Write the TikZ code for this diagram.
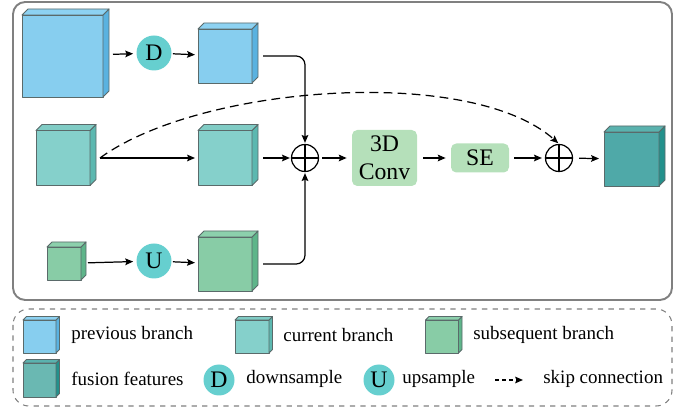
\documentclass[tikz,border=0pt]{standalone}
\usepackage{fontspec}
\setmainfont{Liberation Serif}
\usetikzlibrary{arrows.meta}

\definecolor{prevF}{HTML}{87CEEF}
\definecolor{prevS}{HTML}{5AB2E0}
\definecolor{prevT}{HTML}{8DD2F2}
\definecolor{curF}{HTML}{85D0CB}
\definecolor{curS}{HTML}{5CB8B0}
\definecolor{curT}{HTML}{80CCC5}
\definecolor{subF}{HTML}{88CCA6}
\definecolor{subS}{HTML}{5EB58A}
\definecolor{subT}{HTML}{8CD0AC}
\definecolor{fusF}{HTML}{4FA9A8}
\definecolor{fusS}{HTML}{23918C}
\definecolor{fusT}{HTML}{5AB2AE}
\definecolor{lfusF}{HTML}{6AB8B2}
\definecolor{circ}{HTML}{66CFCF}
\definecolor{boxg}{HTML}{B5E0BA}
\definecolor{edge}{HTML}{5A6A6A}
\definecolor{frame}{HTML}{808080}

% side and top faces of a cube: name, side colour, top colour, depth
\newcommand\cubefaces[4]{%
    \filldraw[face, fill=#2] (#1.north east) -- ++(#4,-#4)
        -- ([shift={(#4,-#4)}]#1.south east) -- (#1.south east) -- cycle;
    \filldraw[face, fill=#3] (#1.north west) -- ++(#4,-#4)
        -- ([shift={(#4,-#4)}]#1.north east) -- (#1.north east) -- cycle;
}

\begin{document}
\begin{tikzpicture}
% Style
[
    x=0.02cm, y=-0.02cm,
    face/.style={draw=edge, line width=0.5pt, line join=round},
    cube/.style n args={3}{face, fill=#1, inner sep=0pt, outer sep=0pt,
        minimum width=#2*0.02cm, minimum height=#3*0.02cm},
    op/.style={circle, draw=none, fill=circ, minimum size=35*0.02cm, inner sep=0pt,
        font=\fontsize{13.5}{16}\selectfont},
    lop/.style={op, minimum size=31*0.02cm},
    plus/.style={circle, draw, line width=0.7pt, minimum size=27*0.02cm, inner sep=0pt},
    block/.style={rounded corners=3pt, fill=boxg, align=center, inner sep=0pt,
        font=\fontsize{13.5}{16}\selectfont},
    arr/.style={-{Stealth[length=4.5pt, width=3.8pt, inset=0.8pt]}, line width=0.7pt},
    lbl/.style={anchor=west, inner sep=0pt, font=\fontsize{10.8}{13}\selectfont},
]
\useasboundingbox (0,0) rectangle (686,411);

%=================================== Frames ===================================
\draw[frame, line width=1.1pt, rounded corners=7pt] (13,2) rectangle (672,300);
\draw[frame, line width=0.6pt, dashed, rounded corners=9pt] (13,309) rectangle (672,406);

%=================================== Branches =================================
\node[cube={prevF}{81}{82}] (prev-1) at (62.5,56) {};
\cubefaces{prev-1}{prevS}{prevT}{6}
\node[op] (down) at (154,53) {D};
\node[cube={prevF}{54}{54}] (prev-2) at (225,56) {};
\cubefaces{prev-2}{prevS}{prevT}{6}

\node[cube={curF}{54}{55}] (cur-1) at (63,158) {};
\cubefaces{cur-1}{curS}{curT}{6}
\node[cube={curF}{54}{55}] (cur-2) at (225,158) {};
\cubefaces{cur-2}{curS}{curT}{6}

\node[cube={subF}{34}{33}] (sub-1) at (64,263.5) {};
\cubefaces{sub-1}{subS}{subT}{5}
\node[op] (up) at (154,261) {U};
\node[cube={subF}{54}{54}] (sub-2) at (225,264) {};
\cubefaces{sub-2}{subS}{subT}{6}

\node[plus] (plus-1) at (305,158) {};
\node[block, minimum width=65*0.02cm, minimum height=56*0.02cm] (conv) at (384.5,158) {3D\\Conv};
\node[block, minimum width=58*0.02cm, minimum height=29*0.02cm] (se) at (480,158) {SE};
\node[plus] (plus-2) at (559,158) {};
\node[cube={fusF}{55}{54}] (fus) at (631.5,159) {};
\cubefaces{fus}{fusS}{fusT}{6}

\foreach \p in {plus-1, plus-2} {
    \draw[line width=0.7pt] (\p.north) -- (\p.south) (\p.west) -- (\p.east);
}

\coordinate (split) at (100,158);

%=================================== Connectors ===============================
\draw[arr, shorten <=10*0.02cm, shorten >=3*0.02cm] (prev-1) -- (down);
\draw[arr, shorten <=1*0.02cm, shorten >=3*0.02cm] (down) -- (prev-2);
\draw[arr, shorten <=11*0.02cm, shorten >=1*0.02cm, rounded corners=5pt] (prev-2.east) -| (plus-1.north);
\draw[arr, shorten >=3*0.02cm] (split) -- (cur-2);
\draw[arr, shorten <=11*0.02cm, shorten >=1*0.02cm] (cur-2) -- (plus-1);
\draw[arr, shorten <=7*0.02cm, shorten >=3*0.02cm] (sub-1) -- (up);
\draw[arr, shorten <=1*0.02cm, shorten >=3*0.02cm] (up) -- (sub-2);
\draw[arr, shorten <=11*0.02cm, shorten >=1*0.02cm, rounded corners=5pt] (sub-2.east) -| (plus-1.south);
\draw[arr, shorten <=3*0.02cm, shorten >=5*0.02cm] (plus-1) -- (conv);
\draw[arr, shorten <=6*0.02cm, shorten >=5*0.02cm] (conv) -- (se);
\draw[arr, shorten <=5*0.02cm, shorten >=3*0.02cm] (se) -- (plus-2);
\draw[arr, shorten <=6*0.02cm, shorten >=5*0.02cm] (plus-2) -- (fus);
\draw[arr, dashed, dash pattern=on 5pt off 3pt, shorten >=1*0.02cm]
    (split) .. controls (200,85) and (470,65) .. (plus-2.north);

%=================================== Legend ===================================
\node[cube={prevF}{33}{33}] (l-prev) at (39.5,336.5) {};
\cubefaces{l-prev}{prevS}{prevT}{3.5}
\node[lbl] (t-prev) at (71,335) {previous branch};
\node[cube={curF}{34}{33}] (l-cur) at (252,336.5) {};
\cubefaces{l-cur}{curS}{curT}{3.5}
\node[lbl] (t-cur) at (283,335) {current branch};
\node[cube={subF}{33}{33}] (l-sub) at (442,336.5) {};
\cubefaces{l-sub}{subS}{subT}{3.5}
\node[lbl] (t-sub) at (473,335) {subsequent branch};

\node[cube={lfusF}{33}{34}] (l-fus) at (39.5,380) {};
\cubefaces{l-fus}{fusS}{fusT}{3.5}
\node[lbl] (t-fus) at (71,379) {fusion features};
\node[lop] (l-down) at (219,380) {D};
\node[lbl] (t-down) at (246,379) {downsample};
\node[lop] (l-up) at (379,380) {U};
\node[lbl] (t-up) at (402,379) {upsample};
\coordinate (l-skip) at (495,380);
\node[lbl] (t-skip) at (543,379) {skip connection};
\draw[arr, dashed, dash pattern=on 2.5pt off 1.5pt, shorten >=20*0.02cm] (l-skip) -- (l-skip -| t-skip.west);

\end{tikzpicture}
\end{document}
